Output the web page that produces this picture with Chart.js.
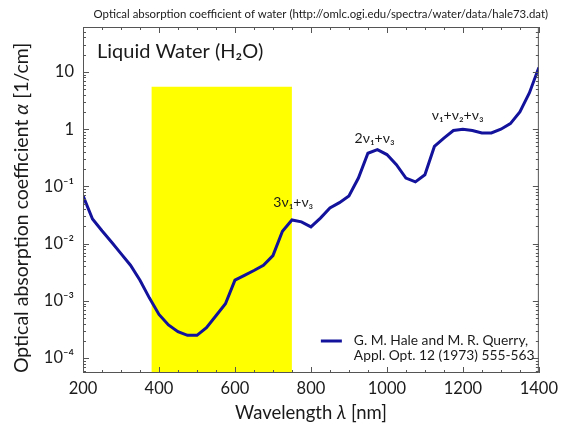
<!DOCTYPE html>
<html>
<head>
<meta charset="utf-8">
<script src="https://cdn.jsdelivr.net/npm/chart.js@4.4.1/dist/chart.umd.min.js"></script>
<style>
html, body { margin: 0; padding: 0; background: #fff; }
#wrap { width: 564px; height: 430px; }
</style>
</head>
<body>
<div id="wrap"><canvas id="waterChart" width="564" height="430"></canvas></div>
<script>
// Hale & Querry absorption of liquid water
const wavelengths = [200, 225, 250, 275, 300, 325, 350, 375, 400, 425, 450, 475, 500, 525, 550, 575,
    600, 625, 650, 675, 700, 725, 750, 775, 800, 825, 850, 875, 900, 925, 950, 975,
    1000, 1025, 1050, 1075, 1100, 1125, 1150, 1175, 1200, 1225, 1250, 1275, 1300, 1325, 1350, 1375, 1400];
const absorption = [0.069, 0.027, 0.0168, 0.0107, 0.0067, 0.0042, 0.0023, 0.00112, 0.00058, 0.00038, 0.00029, 0.00025, 0.00025, 0.00034, 0.00055, 0.00089,
    0.0023, 0.0028, 0.0034, 0.0042, 0.0062, 0.0165, 0.026, 0.024, 0.0196, 0.028, 0.042, 0.052, 0.068, 0.14, 0.38, 0.44,
    0.36, 0.24, 0.14, 0.12, 0.16, 0.5, 0.7, 0.95, 1.0, 0.95, 0.86, 0.86, 1.0, 1.25, 2.0, 4.3, 12];

const visibleBand = [380, 750];
const visibleBandTop = 5.5;

const xTicks = [200, 400, 600, 800, 1000, 1200, 1400];
const yTicks = [1e-4, 1e-3, 1e-2, 1e-1, 1, 10];
const yTickLabels = ['10⁻⁴', '10⁻³', '10⁻²', '10⁻¹', '1', '10'];

const bands = [
    { label: '3ν₁+ν₃', x: 701, y: 0.053 },
    { label: '2ν₁+ν₃', x: 915, y: 0.70 },
    { label: 'ν₁+ν₂+ν₃', x: 1118, y: 1.75 }
];

const FONT = "Lato, 'DejaVu Sans', sans-serif";
const TEXT = '#1a1a1a';
const BLUE = '#12129c';

function drawParts(ctx, x, y, parts, align) {
    let total = 0;
    parts.forEach(p => { ctx.font = p.font; total += ctx.measureText(p.text).width; });
    let cx = align === 'center' ? x - total / 2 : (align === 'right' ? x - total : x);
    ctx.textAlign = 'left';
    parts.forEach(p => {
        ctx.font = p.font;
        ctx.fillText(p.text, cx, y);
        cx += ctx.measureText(p.text).width;
    });
}

const decorPlugin = {
    id: 'decor',
    afterDatasetsDraw(chart) {
        const ctx = chart.ctx;
        const area = chart.chartArea;
        const xs = chart.scales.x, ys = chart.scales.y;
        ctx.save();

        // frame
        ctx.strokeStyle = '#555';
        ctx.lineWidth = 1;
        ctx.strokeRect(area.left + 0.5, area.top + 0.5, area.right - area.left - 1, area.bottom - area.top - 1);

        // inward ticks on all four sides
        ctx.beginPath();
        for (let v = 200; v <= 1400; v += 50) {
            const px = Math.round(xs.getPixelForValue(v)) + 0.5;
            const len = v % 200 === 0 ? 6 : 3;
            ctx.moveTo(px, area.bottom); ctx.lineTo(px, area.bottom - len);
            ctx.moveTo(px, area.top); ctx.lineTo(px, area.top + len);
        }
        for (let e = -5; e <= 1; e++) {
            for (let k = 1; k <= 9; k++) {
                const v = k * Math.pow(10, e);
                if (v < ys.min || v > ys.max) continue;
                const py = Math.round(ys.getPixelForValue(v)) + 0.5;
                const len = k === 1 ? 6 : 3;
                ctx.moveTo(area.left, py); ctx.lineTo(area.left + len, py);
                ctx.moveTo(area.right, py); ctx.lineTo(area.right - len, py);
            }
        }
        ctx.stroke();

        ctx.fillStyle = TEXT;
        ctx.textBaseline = 'middle';

        // top caption
        ctx.font = '11.4px ' + FONT;
        ctx.textAlign = 'right';
        ctx.fillText('Optical absorption coefficient of water (http://omlc.ogi.edu/spectra/water/data/hale73.dat)', 548, 14);

        // inset title
        ctx.font = '20px ' + FONT;
        ctx.textAlign = 'left';
        ctx.fillText('Liquid Water (H₂O)', area.left + 14, 52);

        // band labels
        ctx.font = '14px ' + FONT;
        bands.forEach(b => {
            ctx.fillText(b.label, xs.getPixelForValue(b.x), ys.getPixelForValue(b.y));
        });

        // legend
        const lx = area.right - 218, ly = area.bottom - 32;
        ctx.strokeStyle = BLUE;
        ctx.lineWidth = 3;
        ctx.beginPath();
        ctx.moveTo(lx, ly); ctx.lineTo(lx + 21, ly);
        ctx.stroke();
        ctx.font = '13.8px ' + FONT;
        ctx.fillText('G. M. Hale and M. R. Querry,', lx + 33, ly);
        ctx.fillText('Appl. Opt. 12 (1973) 555-563', lx + 33, ly + 15);

        // axis titles
        drawParts(ctx, (area.left + area.right) / 2, 413, [
            { text: 'Wavelength ', font: '18.5px ' + FONT },
            { text: 'λ', font: 'italic 18.5px ' + FONT },
            { text: ' [nm]', font: '18.5px ' + FONT }
        ], 'center');
        ctx.translate(22, 208);
        ctx.rotate(-Math.PI / 2);
        drawParts(ctx, 0, 0, [
            { text: 'Optical absorption coefficient ', font: '19.5px ' + FONT },
            { text: 'α', font: 'italic 19.5px ' + FONT },
            { text: ' [1/cm]', font: '19.5px ' + FONT }
        ], 'center');

        ctx.restore();
    }
};

const waterCtx = document.getElementById('waterChart').getContext('2d');
const waterChart = new Chart(waterCtx, {
    type: 'line',
    data: {
        datasets: [{
            label: 'G. M. Hale and M. R. Querry',
            data: wavelengths.map((w, i) => ({ x: w, y: absorption[i] })),
            borderColor: BLUE,
            borderWidth: 3,
            pointRadius: 0,
            tension: 0,
            fill: false,
            order: 0
        }, {
            label: 'visible',
            data: visibleBand.map(w => ({ x: w, y: visibleBandTop })),
            borderWidth: 0,
            borderColor: 'rgba(0,0,0,0)',
            backgroundColor: '#ffff00',
            pointRadius: 0,
            fill: 'start',
            order: 1
        }]
    },
    options: {
        responsive: false,
        devicePixelRatio: 1,
        animation: false,
        layout: { padding: { left: 0, top: 27, right: 21, bottom: 0 } },
        plugins: {
            legend: { display: false },
            tooltip: { enabled: false }
        },
        scales: {
            x: {
                type: 'linear',
                min: 200,
                max: 1400,
                afterBuildTicks: (scale) => { scale.ticks = xTicks.map(v => ({ value: v })); },
                afterFit: (scale) => { scale.height = 57; },
                grid: { display: false, drawTicks: false },
                border: { display: false },
                ticks: {
                    autoSkip: false,
                    maxRotation: 0,
                    padding: 6,
                    color: TEXT,
                    font: { family: FONT, size: 16.5 },
                    callback: (value) => String(value)
                }
            },
            y: {
                type: 'logarithmic',
                min: 5.5e-5,
                max: 61,
                afterBuildTicks: (scale) => { scale.ticks = yTicks.map(v => ({ value: v })); },
                afterFit: (scale) => { scale.width = 83; },
                grid: { display: false, drawTicks: false },
                border: { display: false },
                ticks: {
                    padding: 9,
                    color: TEXT,
                    font: { family: FONT, size: 16.5 },
                    callback: (value, index) => yTickLabels[index]
                }
            }
        }
    },
    plugins: [decorPlugin]
});
</script>
</body>
</html>
